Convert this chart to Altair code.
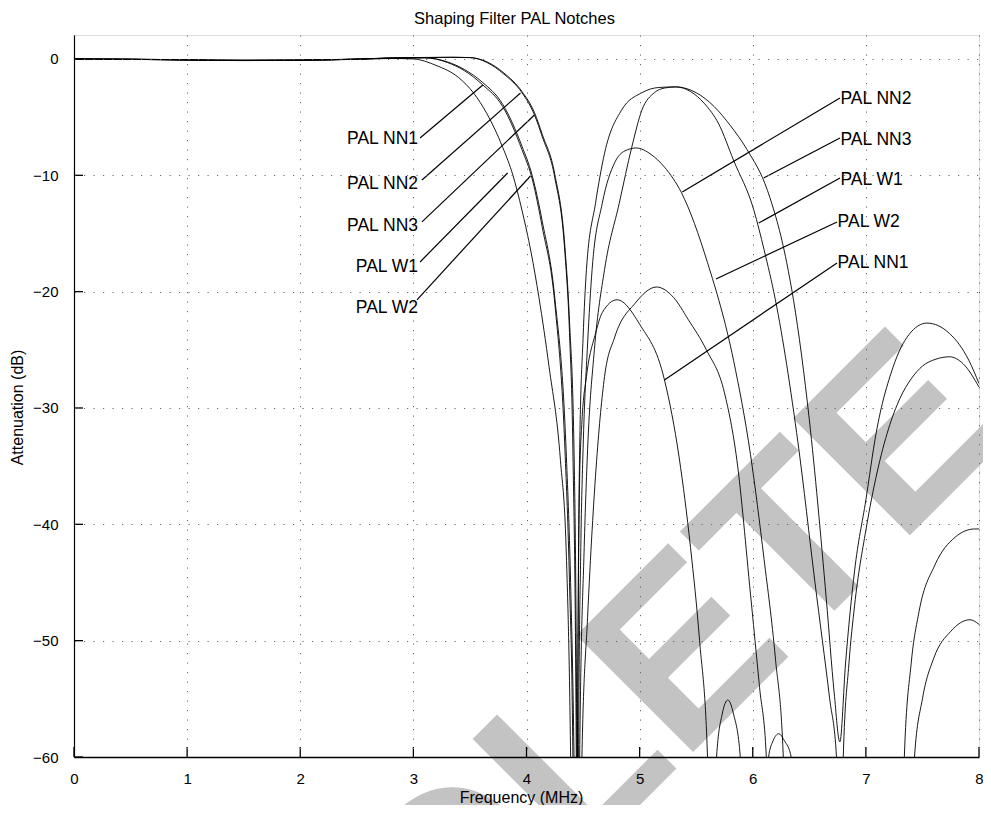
import altair as alt
import pandas as pd

# ---------------- data ----------------
x_ticks = [0, 1, 2, 3, 4, 5, 6, 7, 8]
y_ticks = [-60, -50, -40, -30, -20, -10, 0]

nn1_f = [0, 0.5, 1.0, 1.5, 2.0, 2.5, 2.8, 3.1, 3.3, 3.45,
         3.61, 3.79, 3.96, 4.05, 4.14, 4.25, 4.34, 4.38, 4.41, 4.43,
         4.45, 4.46, 4.47, 4.49, 4.53, 4.61, 4.67, 4.80, 5.0, 5.22,
         5.35, 5.45, 5.53, 5.60, 5.64, 5.68, 5.73, 5.78, 5.83, 5.89,
         5.92, 7.40, 7.43, 7.50, 7.60, 7.75, 7.92, 8.0]
nn1_db = [0, -0.03, -0.08, -0.12, -0.1, -0.02, 0.08, 0.1, -0.3, -1.0,
          -2.2, -4.1, -7.8, -10.3, -14.5, -21.0, -33.6, -45, -60, -90,
          -60, -44, -36, -31.2, -27.3, -23.6, -21.8, -20.7, -22.8, -27.6,
          -34.3, -42, -50, -60, -80, -60, -56.3, -55.1, -56.3, -60,
          -80, -80, -60, -55, -51.5, -49.2, -48.2, -48.6]

nn2_f = [0, 0.5, 1.0, 1.5, 2.0, 2.5, 2.8, 3.1, 3.35, 3.5,
         3.65, 3.8, 3.96, 4.07, 4.14, 4.25, 4.34, 4.38, 4.41, 4.44, 4.45,
         4.46, 4.48, 4.50, 4.54, 4.58, 4.67, 4.78, 4.87, 4.97, 5.1,
         5.22, 5.37, 5.6, 5.83, 5.98, 6.1, 6.2, 6.27, 6.30, 7.30,
         7.34, 7.40, 7.47, 7.61, 7.79, 7.96, 8.0]
nn2_db = [0, -0.02, -0.07, -0.11, -0.09, -0.01, 0.08, 0.12, 0.14, 0.12,
          -0.3, -1.3, -2.9, -4.8, -6.7, -10.2, -16.7, -23.5, -33.6, -60, -90,
          -60, -42, -33.6, -24.5, -18.1, -12.4, -8.9, -7.9, -7.65, -8.2,
          -9.3, -11.5, -17.5, -25.9, -34.0, -43.0, -51.5, -60, -80, -80,
          -60, -52, -47.5, -43.5, -41.1, -40.4, -40.4]

nn3_f = [0, 0.5, 1.0, 1.5, 2.0, 2.5, 2.8, 3.1, 3.35, 3.5,
         3.65, 3.8, 3.96, 4.07, 4.14, 4.25, 4.34, 4.38, 4.42, 4.445,
         4.455, 4.47, 4.51, 4.54, 4.6, 4.69, 4.82, 4.93, 5.02, 5.13,
         5.22, 5.32, 5.5, 5.66, 5.8, 5.95, 6.13, 6.30, 6.36, 6.5,
         6.65, 6.72, 6.77, 6.82, 6.9, 7.0, 7.09, 7.24, 7.38, 7.54,
         7.74, 7.91, 8.0]
nn3_db = [0, -0.02, -0.07, -0.11, -0.09, -0.01, 0.09, 0.13, 0.15, 0.12,
          -0.25, -1.2, -2.8, -4.6, -6.5, -9.9, -16.2, -22.5, -33.6, -60,
          -90, -60, -42, -33.6, -25, -18.1, -12.4, -7.6, -4.4, -2.9,
          -2.5, -2.4, -2.9, -4.1, -5.7, -7.8, -11.3, -17.5, -20.7, -31.0,
          -46.4, -54.5, -58.7, -52.0, -44.0, -37.9, -32.2, -26.5, -23.7, -22.7,
          -23.6, -25.9, -27.9]

w1_f = [0, 0.5, 1.0, 1.5, 2.0, 2.5, 2.8, 3.0, 3.2, 3.4,
        3.53, 3.65, 3.79, 3.88, 3.96, 4.04, 4.11, 4.2, 4.30, 4.35,
        4.39, 4.42, 4.45, 4.46, 4.47, 4.50, 4.53, 4.61, 4.69, 4.84,
        5.02, 5.17, 5.32, 5.45, 5.57, 5.7, 5.83, 6.01, 6.10, 6.2,
        6.4, 6.55, 6.68, 6.74, 6.77, 6.80, 6.85, 6.9, 7.0, 7.1,
        7.2, 7.3, 7.4, 7.5, 7.62, 7.74, 7.86, 8.0]
w1_db = [0, -0.03, -0.1, -0.14, -0.12, -0.03, 0.04, 0.0, -0.55, -1.6,
         -2.9, -4.7, -7.6, -10.0, -13.0, -16.6, -20.5, -26.5, -34.5, -42,
         -60, -90, -60, -42, -33.6, -24, -18.1, -12.4, -8.1, -4.4,
         -2.9, -2.45, -2.4, -2.8, -3.8, -5.6, -8.7, -13.0, -16.4, -20.7,
         -33.0, -45.0, -55.0, -60, -80, -60, -52, -47.0, -40.5, -35.5,
         -31.8, -29.2, -27.5, -26.4, -25.8, -25.6, -26.2, -28.2]

w2_f = [0, 0.5, 1.0, 1.5, 2.0, 2.5, 2.8, 3.1, 3.3, 3.45,
        3.61, 3.79, 3.96, 4.05, 4.14, 4.25, 4.35, 4.39, 4.42, 4.45,
        4.49, 4.54, 4.58, 4.62, 4.69, 4.78, 4.96, 5.15, 5.3, 5.43,
        5.59, 5.75, 5.86, 5.98, 6.06, 6.12, 6.13, 6.14, 6.18, 6.23,
        6.28, 6.34, 6.37, 8.0]
w2_db = [0, -0.03, -0.09, -0.13, -0.11, -0.02, 0.07, 0.1, -0.25, -0.9,
         -2.0, -3.9, -7.5, -10.0, -14.0, -20.5, -33.6, -45, -60, -90,
         -60, -48, -40.5, -34.5, -27.3, -23.9, -21.0, -19.6, -20.5, -22.4,
         -25.0, -28.7, -34.5, -46.0, -54.0, -60, -75, -60, -58.6, -58.0,
         -58.6, -60, -80, -80]

series_names = ["PAL NN1", "PAL NN2", "PAL NN3", "PAL W1", "PAL W2"]

# label annotations (text position, leader start, leader end) in data units
left_names = ["PAL NN1", "PAL NN2", "PAL NN3", "PAL W1", "PAL W2"]
left_text_f = [3.041, 3.041, 3.041, 3.041, 3.041]
left_text_db = [-6.88, -10.75, -14.36, -17.88, -21.4]
left_lead_f = [3.059, 3.076, 3.076, 3.059, 3.032]
left_lead_db = [-6.79, -10.4, -14.0, -17.45, -20.7]
left_end_f = [3.614, 3.947, 4.07, 3.833, 4.035]
left_end_db = [-2.24, -2.92, -4.82, -9.80, -10.06]

right_names = ["PAL NN2", "PAL NN3", "PAL W1", "PAL W2", "PAL NN1"]
right_text_f = [6.775, 6.775, 6.775, 6.75, 6.75]
right_text_db = [-3.44, -6.96, -10.40, -14.0, -17.54]
right_lead_f = [6.771, 6.771, 6.771, 6.745, 6.745]
right_lead_db = [-3.35, -6.79, -10.23, -14.01, -17.54]
right_end_f = [5.377, 6.096, 6.053, 5.675, 5.219]
right_end_db = [-11.43, -10.23, -14.10, -18.91, -27.59]

watermark = ["OBSOLETE"]

# ---------------- build tables ----------------
rows = []
for name, fs, ds in zip(series_names, [nn1_f, nn2_f, nn3_f, w1_f, w2_f],
                        [nn1_db, nn2_db, nn3_db, w1_db, w2_db]):
    assert len(fs) == len(ds), name
    for i, (f, d) in enumerate(zip(fs, ds)):
        rows.append({"series": name, "f": f, "db": d, "i": i})
curves = pd.DataFrame(rows)

leaders = pd.DataFrame({
    "f": left_lead_f + right_lead_f,
    "db": left_lead_db + right_lead_db,
    "f2": left_end_f + right_end_f,
    "db2": left_end_db + right_end_db,
})
left_lab = pd.DataFrame({"f": left_text_f, "db": left_text_db, "t": left_names})
right_lab = pd.DataFrame({"f": right_text_f, "db": right_text_db, "t": right_names})

FONT = "Liberation Sans"
PAD_L, PAD_T = 66, 27
W, H = 905, 722

xs = alt.Scale(domain=[0, 8], nice=False, zero=False)
ys = alt.Scale(domain=[-60, 2.06], nice=False, zero=False)

x_axis = alt.Axis(values=x_ticks, format="d", grid=True, gridDash=[1.2, 8.3], gridColor="#666666", gridWidth=1,
                  ticks=False, tickSize=0, domainColor="black", domainWidth=1.5,
                  labelFont=FONT, labelFontSize=15, labelColor="black", labelPadding=14,
                  labelFlush=False, labelOverlap=False,
                  title="Frequency (MHz)", titleFont=FONT, titleFontSize=16, titleFontWeight="normal",
                  titleColor="black", titleX=447, titleY=45, titleBaseline="alphabetic", titleAlign="center",
                  zindex=1)
y_axis = alt.Axis(values=y_ticks, format="d", grid=True, gridDash=[1.2, 8.3], gridColor="#666666", gridWidth=1,
                  ticks=False, tickSize=0, domainColor="black", domainWidth=1.2,
                  labelFont=FONT, labelFontSize=15, labelColor="black", labelPadding=16,
                  labelFlush=False, labelOverlap=False,
                  title="Attenuation (dB)", titleFont=FONT, titleFontSize=16, titleFontWeight="normal",
                  titleColor="black", titleX=-57, titleY=372, titleBaseline="middle", titleAlign="center",
                  titleAngle=270, zindex=1)

X = alt.X("f:Q", scale=xs, axis=x_axis)
Y = alt.Y("db:Q", scale=ys, axis=y_axis)

wm = alt.Chart(pd.DataFrame({"t": watermark})).mark_text(
    font=FONT, fontSize=240, fontWeight="bold", angle=315, color="#c3c3c3",
    align="center", baseline="alphabetic"
).encode(text="t:N", x=alt.value(545 - 8 - PAD_L), y=alt.value(900 - 8 - PAD_T))

lines = alt.Chart(curves).mark_line(
    clip=True, interpolate="monotone", color="black", strokeWidth=0.9
).encode(x=X, y=Y, detail="series:N", order="i:Q")

lead = alt.Chart(leaders).mark_rule(color="black", strokeWidth=1.2).encode(
    x=X, y=Y, x2="f2:Q", y2="db2:Q")

ltxt = alt.Chart(left_lab).mark_text(
    font=FONT, fontSize=17.5, align="right", baseline="middle", color="black"
).encode(x=X, y=Y, text="t:N")

rtxt = alt.Chart(right_lab).mark_text(
    font=FONT, fontSize=17.5, align="left", baseline="middle", color="black"
).encode(x=X, y=Y, text="t:N")

xt = alt.Chart(pd.DataFrame({"f": x_ticks})).mark_rule(color="black", strokeWidth=1.3).encode(
    x=X, y=alt.value(H), y2=alt.value(H - 10))
yt = alt.Chart(pd.DataFrame({"db": y_ticks})).mark_rule(color="black", strokeWidth=1.3).encode(
    y=Y, x=alt.value(0), x2=alt.value(9))

chart = alt.layer(wm, lines, lead, ltxt, rtxt, xt, yt).properties(
    width=W, height=H,
    title=alt.TitleParams("Shaping Filter PAL Notches", font=FONT, fontSize=16.5, fontWeight="normal",
                          color="black", anchor="middle", frame="group", offset=8, dx=-12),
    autosize=alt.AutoSizeParams(type="none"),
    padding={"left": PAD_L, "top": PAD_T, "right": 4, "bottom": 48},
).configure_view(stroke=None).configure(background="white")

chart.save("out.html", embed_options={"renderer": "svg", "actions": False})
